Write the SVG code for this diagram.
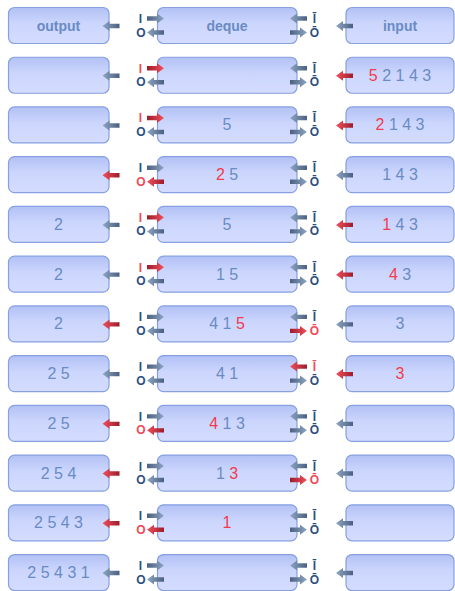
<svg xmlns="http://www.w3.org/2000/svg" xmlns:xlink="http://www.w3.org/1999/xlink" width="455" height="591" viewBox="0 0 455 591">
<style>
.box{fill:url(#bg);stroke:#86a0e2;stroke-width:1.2}
.h{font-family:"Liberation Sans",Arial,sans-serif;font-weight:bold;font-size:14px;fill:#6a8bc3;text-anchor:middle}
.d{font-family:"Liberation Sans",Arial,sans-serif;font-size:16px;fill:#6a8bc3;text-anchor:middle}
.rt{fill:#f03c4c}
.g{fill:url(#gg)}
.r{fill:url(#rg)}
.lb{font-family:"Liberation Sans",Arial,sans-serif;font-weight:bold;font-size:12px;fill:#2d4f80;text-anchor:middle}
.lr{fill:#f04a5a}
</style>
<defs>
<linearGradient id="bg" x1="0" y1="0" x2="0" y2="1">
<stop offset="0" stop-color="#b2c1f5"/>
<stop offset="0.45" stop-color="#ccd6fd"/>
<stop offset="1" stop-color="#d4dcff"/>
</linearGradient>
<linearGradient id="gg" x1="0" y1="0" x2="1" y2="0">
<stop offset="0" stop-color="#4b6080"/>
<stop offset="1" stop-color="#8ea5c3"/>
</linearGradient>
<linearGradient id="rg" x1="0" y1="0" x2="1" y2="0">
<stop offset="0" stop-color="#9c1c2a"/>
<stop offset="1" stop-color="#f2505e"/>
</linearGradient>
<path id="ar" d="M-17,-2.2 H-7 V-5 L0,0 L-7,5 V2.2 H-17 Z"/>
</defs>

<g id="nodes">
<g id="row0">
<g id="out0"><rect class="box" x="8.5" y="7.5" width="100.5" height="36" rx="6"/><text class="h" x="58.5" y="31">output</text></g>
<g id="dq0"><rect class="box" x="157.5" y="7.5" width="139.5" height="36" rx="6"/><text class="h" x="227" y="31">deque</text></g>
<g id="in0"><rect class="box" x="346" y="7.5" width="108" height="36" rx="6"/><text class="h" x="400" y="31">input</text></g>
</g>
<g id="row1" transform="translate(0,49.73)">
<g id="out1"><rect class="box" x="8.5" y="7.5" width="100.5" height="36" rx="6"/></g>
<g id="dq1"><rect class="box" x="157.5" y="7.5" width="139.5" height="36" rx="6"/></g>
<g id="in1"><rect class="box" x="346" y="7.5" width="108" height="36" rx="6"/><text class="d" x="400" y="31"><tspan class="rt">5</tspan> 2 1 4 3</text></g>
</g>
<g id="row2" transform="translate(0,99.46)">
<g id="out2"><rect class="box" x="8.5" y="7.5" width="100.5" height="36" rx="6"/></g>
<g id="dq2"><rect class="box" x="157.5" y="7.5" width="139.5" height="36" rx="6"/><text class="d" x="227" y="31">5</text></g>
<g id="in2"><rect class="box" x="346" y="7.5" width="108" height="36" rx="6"/><text class="d" x="400" y="31"><tspan class="rt">2</tspan> 1 4 3</text></g>
</g>
<g id="row3" transform="translate(0,149.19)">
<g id="out3"><rect class="box" x="8.5" y="7.5" width="100.5" height="36" rx="6"/></g>
<g id="dq3"><rect class="box" x="157.5" y="7.5" width="139.5" height="36" rx="6"/><text class="d" x="227" y="31"><tspan class="rt">2</tspan> 5</text></g>
<g id="in3"><rect class="box" x="346" y="7.5" width="108" height="36" rx="6"/><text class="d" x="400" y="31">1 4 3</text></g>
</g>
<g id="row4" transform="translate(0,198.92)">
<g id="out4"><rect class="box" x="8.5" y="7.5" width="100.5" height="36" rx="6"/><text class="d" x="58.5" y="31">2</text></g>
<g id="dq4"><rect class="box" x="157.5" y="7.5" width="139.5" height="36" rx="6"/><text class="d" x="227" y="31">5</text></g>
<g id="in4"><rect class="box" x="346" y="7.5" width="108" height="36" rx="6"/><text class="d" x="400" y="31"><tspan class="rt">1</tspan> 4 3</text></g>
</g>
<g id="row5" transform="translate(0,248.65)">
<g id="out5"><rect class="box" x="8.5" y="7.5" width="100.5" height="36" rx="6"/><text class="d" x="58.5" y="31">2</text></g>
<g id="dq5"><rect class="box" x="157.5" y="7.5" width="139.5" height="36" rx="6"/><text class="d" x="227" y="31">1 5</text></g>
<g id="in5"><rect class="box" x="346" y="7.5" width="108" height="36" rx="6"/><text class="d" x="400" y="31"><tspan class="rt">4</tspan> 3</text></g>
</g>
<g id="row6" transform="translate(0,298.38)">
<g id="out6"><rect class="box" x="8.5" y="7.5" width="100.5" height="36" rx="6"/><text class="d" x="58.5" y="31">2</text></g>
<g id="dq6"><rect class="box" x="157.5" y="7.5" width="139.5" height="36" rx="6"/><text class="d" x="227" y="31">4 1 <tspan class="rt">5</tspan></text></g>
<g id="in6"><rect class="box" x="346" y="7.5" width="108" height="36" rx="6"/><text class="d" x="400" y="31">3</text></g>
</g>
<g id="row7" transform="translate(0,348.11)">
<g id="out7"><rect class="box" x="8.5" y="7.5" width="100.5" height="36" rx="6"/><text class="d" x="58.5" y="31">2 5</text></g>
<g id="dq7"><rect class="box" x="157.5" y="7.5" width="139.5" height="36" rx="6"/><text class="d" x="227" y="31">4 1</text></g>
<g id="in7"><rect class="box" x="346" y="7.5" width="108" height="36" rx="6"/><text class="d rt" x="400" y="31">3</text></g>
</g>
<g id="row8" transform="translate(0,397.84)">
<g id="out8"><rect class="box" x="8.5" y="7.5" width="100.5" height="36" rx="6"/><text class="d" x="58.5" y="31">2 5</text></g>
<g id="dq8"><rect class="box" x="157.5" y="7.5" width="139.5" height="36" rx="6"/><text class="d" x="227" y="31"><tspan class="rt">4</tspan> 1 3</text></g>
<g id="in8"><rect class="box" x="346" y="7.5" width="108" height="36" rx="6"/></g>
</g>
<g id="row9" transform="translate(0,447.57)">
<g id="out9"><rect class="box" x="8.5" y="7.5" width="100.5" height="36" rx="6"/><text class="d" x="58.5" y="31">2 5 4</text></g>
<g id="dq9"><rect class="box" x="157.5" y="7.5" width="139.5" height="36" rx="6"/><text class="d" x="227" y="31">1 <tspan class="rt">3</tspan></text></g>
<g id="in9"><rect class="box" x="346" y="7.5" width="108" height="36" rx="6"/></g>
</g>
<g id="row10" transform="translate(0,497.3)">
<g id="out10"><rect class="box" x="8.5" y="7.5" width="100.5" height="36" rx="6"/><text class="d" x="58.5" y="31">2 5 4 3</text></g>
<g id="dq10"><rect class="box" x="157.5" y="7.5" width="139.5" height="36" rx="6"/><text class="d rt" x="227" y="31">1</text></g>
<g id="in10"><rect class="box" x="346" y="7.5" width="108" height="36" rx="6"/></g>
</g>
<g id="row11" transform="translate(0,547.03)">
<g id="out11"><rect class="box" x="8.5" y="7.5" width="100.5" height="36" rx="6"/><text class="d" x="58.5" y="31">2 5 4 3 1</text></g>
<g id="dq11"><rect class="box" x="157.5" y="7.5" width="139.5" height="36" rx="6"/></g>
<g id="in11"><rect class="box" x="346" y="7.5" width="108" height="36" rx="6"/></g>
</g>
</g>

<g id="connectors">
<!-- row 0 -->
<g transform="translate(0,0)">
<use xlink:href="#ar" class="g" transform="translate(102.5,26) scale(-1,1)"/>
<use xlink:href="#ar" class="g" transform="translate(164,18.5)"/>
<use xlink:href="#ar" class="g" transform="translate(147,32.5) scale(-1,1)"/>
<use xlink:href="#ar" class="g" transform="translate(290,18.5) scale(-1,1)"/>
<use xlink:href="#ar" class="g" transform="translate(307,32.5)"/>
<use xlink:href="#ar" class="g" transform="translate(336,26) scale(-1,1)"/>
<text class="lb" x="140.5" y="23">I</text><text class="lb" x="141" y="36.5">O</text>
<text class="lb" x="314.5" y="23">Ī</text><text class="lb" x="314.5" y="36.5">Ō</text>
</g>
<!-- row 1 -->
<g transform="translate(0,49.73)">
<use xlink:href="#ar" class="g" transform="translate(102.5,26) scale(-1,1)"/>
<use xlink:href="#ar" class="r" transform="translate(164,18.5)"/>
<use xlink:href="#ar" class="g" transform="translate(147,32.5) scale(-1,1)"/>
<use xlink:href="#ar" class="g" transform="translate(290,18.5) scale(-1,1)"/>
<use xlink:href="#ar" class="g" transform="translate(307,32.5)"/>
<use xlink:href="#ar" class="r" transform="translate(336,26) scale(-1,1)"/>
<text class="lb lr" x="140.5" y="23">I</text><text class="lb" x="141" y="36.5">O</text>
<text class="lb" x="314.5" y="23">Ī</text><text class="lb" x="314.5" y="36.5">Ō</text>
</g>
<!-- row 2 -->
<g transform="translate(0,99.46)">
<use xlink:href="#ar" class="g" transform="translate(102.5,26) scale(-1,1)"/>
<use xlink:href="#ar" class="r" transform="translate(164,18.5)"/>
<use xlink:href="#ar" class="g" transform="translate(147,32.5) scale(-1,1)"/>
<use xlink:href="#ar" class="g" transform="translate(290,18.5) scale(-1,1)"/>
<use xlink:href="#ar" class="g" transform="translate(307,32.5)"/>
<use xlink:href="#ar" class="r" transform="translate(336,26) scale(-1,1)"/>
<text class="lb lr" x="140.5" y="23">I</text><text class="lb" x="141" y="36.5">O</text>
<text class="lb" x="314.5" y="23">Ī</text><text class="lb" x="314.5" y="36.5">Ō</text>
</g>
<!-- row 3 -->
<g transform="translate(0,149.19)">
<use xlink:href="#ar" class="r" transform="translate(102.5,26) scale(-1,1)"/>
<use xlink:href="#ar" class="g" transform="translate(164,18.5)"/>
<use xlink:href="#ar" class="r" transform="translate(147,32.5) scale(-1,1)"/>
<use xlink:href="#ar" class="g" transform="translate(290,18.5) scale(-1,1)"/>
<use xlink:href="#ar" class="g" transform="translate(307,32.5)"/>
<use xlink:href="#ar" class="g" transform="translate(336,26) scale(-1,1)"/>
<text class="lb" x="140.5" y="23">I</text><text class="lb lr" x="141" y="36.5">O</text>
<text class="lb" x="314.5" y="23">Ī</text><text class="lb" x="314.5" y="36.5">Ō</text>
</g>
<!-- row 4 -->
<g transform="translate(0,198.92)">
<use xlink:href="#ar" class="g" transform="translate(102.5,26) scale(-1,1)"/>
<use xlink:href="#ar" class="r" transform="translate(164,18.5)"/>
<use xlink:href="#ar" class="g" transform="translate(147,32.5) scale(-1,1)"/>
<use xlink:href="#ar" class="g" transform="translate(290,18.5) scale(-1,1)"/>
<use xlink:href="#ar" class="g" transform="translate(307,32.5)"/>
<use xlink:href="#ar" class="r" transform="translate(336,26) scale(-1,1)"/>
<text class="lb lr" x="140.5" y="23">I</text><text class="lb" x="141" y="36.5">O</text>
<text class="lb" x="314.5" y="23">Ī</text><text class="lb" x="314.5" y="36.5">Ō</text>
</g>
<!-- row 5 -->
<g transform="translate(0,248.65)">
<use xlink:href="#ar" class="g" transform="translate(102.5,26) scale(-1,1)"/>
<use xlink:href="#ar" class="r" transform="translate(164,18.5)"/>
<use xlink:href="#ar" class="g" transform="translate(147,32.5) scale(-1,1)"/>
<use xlink:href="#ar" class="g" transform="translate(290,18.5) scale(-1,1)"/>
<use xlink:href="#ar" class="g" transform="translate(307,32.5)"/>
<use xlink:href="#ar" class="r" transform="translate(336,26) scale(-1,1)"/>
<text class="lb lr" x="140.5" y="23">I</text><text class="lb" x="141" y="36.5">O</text>
<text class="lb" x="314.5" y="23">Ī</text><text class="lb" x="314.5" y="36.5">Ō</text>
</g>
<!-- row 6 -->
<g transform="translate(0,298.38)">
<use xlink:href="#ar" class="r" transform="translate(102.5,26) scale(-1,1)"/>
<use xlink:href="#ar" class="g" transform="translate(164,18.5)"/>
<use xlink:href="#ar" class="g" transform="translate(147,32.5) scale(-1,1)"/>
<use xlink:href="#ar" class="g" transform="translate(290,18.5) scale(-1,1)"/>
<use xlink:href="#ar" class="r" transform="translate(307,32.5)"/>
<use xlink:href="#ar" class="g" transform="translate(336,26) scale(-1,1)"/>
<text class="lb" x="140.5" y="23">I</text><text class="lb" x="141" y="36.5">O</text>
<text class="lb" x="314.5" y="23">Ī</text><text class="lb lr" x="314.5" y="36.5">Ō</text>
</g>
<!-- row 7 -->
<g transform="translate(0,348.11)">
<use xlink:href="#ar" class="g" transform="translate(102.5,26) scale(-1,1)"/>
<use xlink:href="#ar" class="g" transform="translate(164,18.5)"/>
<use xlink:href="#ar" class="g" transform="translate(147,32.5) scale(-1,1)"/>
<use xlink:href="#ar" class="r" transform="translate(290,18.5) scale(-1,1)"/>
<use xlink:href="#ar" class="g" transform="translate(307,32.5)"/>
<use xlink:href="#ar" class="r" transform="translate(336,26) scale(-1,1)"/>
<text class="lb" x="140.5" y="23">I</text><text class="lb" x="141" y="36.5">O</text>
<text class="lb lr" x="314.5" y="23">Ī</text><text class="lb" x="314.5" y="36.5">Ō</text>
</g>
<!-- row 8 -->
<g transform="translate(0,397.84)">
<use xlink:href="#ar" class="r" transform="translate(102.5,26) scale(-1,1)"/>
<use xlink:href="#ar" class="g" transform="translate(164,18.5)"/>
<use xlink:href="#ar" class="r" transform="translate(147,32.5) scale(-1,1)"/>
<use xlink:href="#ar" class="g" transform="translate(290,18.5) scale(-1,1)"/>
<use xlink:href="#ar" class="g" transform="translate(307,32.5)"/>
<use xlink:href="#ar" class="g" transform="translate(336,26) scale(-1,1)"/>
<text class="lb" x="140.5" y="23">I</text><text class="lb lr" x="141" y="36.5">O</text>
<text class="lb" x="314.5" y="23">Ī</text><text class="lb" x="314.5" y="36.5">Ō</text>
</g>
<!-- row 9 -->
<g transform="translate(0,447.57)">
<use xlink:href="#ar" class="r" transform="translate(102.5,26) scale(-1,1)"/>
<use xlink:href="#ar" class="g" transform="translate(164,18.5)"/>
<use xlink:href="#ar" class="g" transform="translate(147,32.5) scale(-1,1)"/>
<use xlink:href="#ar" class="g" transform="translate(290,18.5) scale(-1,1)"/>
<use xlink:href="#ar" class="r" transform="translate(307,32.5)"/>
<use xlink:href="#ar" class="g" transform="translate(336,26) scale(-1,1)"/>
<text class="lb" x="140.5" y="23">I</text><text class="lb" x="141" y="36.5">O</text>
<text class="lb" x="314.5" y="23">Ī</text><text class="lb lr" x="314.5" y="36.5">Ō</text>
</g>
<!-- row 10 -->
<g transform="translate(0,497.3)">
<use xlink:href="#ar" class="r" transform="translate(102.5,26) scale(-1,1)"/>
<use xlink:href="#ar" class="g" transform="translate(164,18.5)"/>
<use xlink:href="#ar" class="r" transform="translate(147,32.5) scale(-1,1)"/>
<use xlink:href="#ar" class="g" transform="translate(290,18.5) scale(-1,1)"/>
<use xlink:href="#ar" class="g" transform="translate(307,32.5)"/>
<use xlink:href="#ar" class="g" transform="translate(336,26) scale(-1,1)"/>
<text class="lb" x="140.5" y="23">I</text><text class="lb lr" x="141" y="36.5">O</text>
<text class="lb" x="314.5" y="23">Ī</text><text class="lb" x="314.5" y="36.5">Ō</text>
</g>
<!-- row 11 -->
<g transform="translate(0,547.03)">
<use xlink:href="#ar" class="g" transform="translate(102.5,26) scale(-1,1)"/>
<use xlink:href="#ar" class="g" transform="translate(164,18.5)"/>
<use xlink:href="#ar" class="g" transform="translate(147,32.5) scale(-1,1)"/>
<use xlink:href="#ar" class="g" transform="translate(290,18.5) scale(-1,1)"/>
<use xlink:href="#ar" class="g" transform="translate(307,32.5)"/>
<use xlink:href="#ar" class="g" transform="translate(336,26) scale(-1,1)"/>
<text class="lb" x="140.5" y="23">I</text><text class="lb" x="141" y="36.5">O</text>
<text class="lb" x="314.5" y="23">Ī</text><text class="lb" x="314.5" y="36.5">Ō</text>
</g>
</g>
</svg>
